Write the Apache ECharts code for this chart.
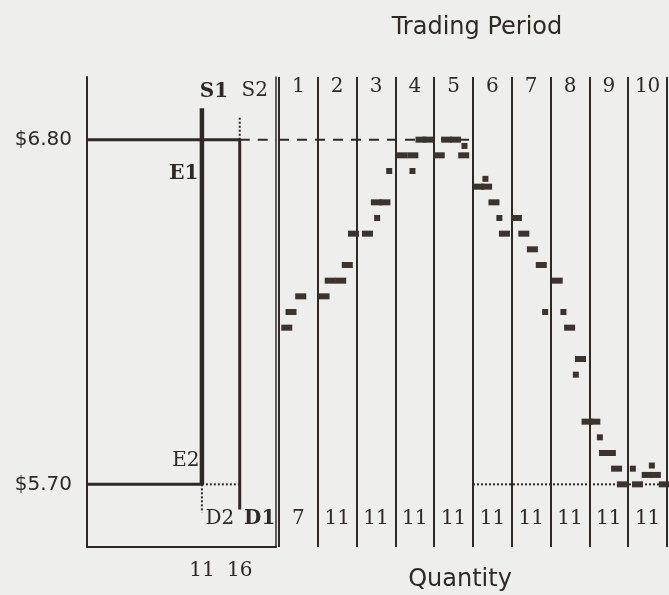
<!DOCTYPE html>
<html><head><meta charset="utf-8">
<script src="https://cdn.jsdelivr.net/npm/echarts@6/dist/echarts.min.js"></script>
<style>html,body{margin:0;padding:0;background:#eeeeec}#c{width:669px;height:595px}</style>
</head><body><div id="c"></div>
<script>
// ---- data ----
const periodLabels = ['1','2','3','4','5','6','7','8','9','10'];
const periodVolumes = ['7','11','11','11','11','11','11','11','11','11'];
const priceLevels = [6.80, 5.70];          // old / new equilibrium price
const supplyQuantities = [11, 16];         // S1 / S2 (and D2 / D1) quantities
const demandShiftPeriod = [5];             // demand falls after period 5
// contract prices: [position in trading periods, price]
const dashTrades = [
  [0.20,6.20],[0.31,6.25],[0.56,6.30],
  [1.16,6.30],[1.32,6.35],[1.59,6.35],[1.76,6.40],[1.92,6.50],
  [2.28,6.50],[2.51,6.60],[2.73,6.60],
  [3.17,6.75],[3.45,6.75],[3.66,6.80],[3.84,6.80],
  [4.13,6.75],[4.32,6.80],[4.55,6.80],[4.76,6.75],
  [5.15,6.65],[5.35,6.65],[5.54,6.60],[5.81,6.50],
  [6.12,6.55],[6.31,6.50],[6.53,6.45],[6.76,6.40],
  [7.17,6.35],[7.49,6.20],[7.77,6.10],[7.94,5.90],
  [8.14,5.90],[8.39,5.80],[8.54,5.80],[8.70,5.75],[8.85,5.70],
  [9.24,5.70],[9.49,5.73],[9.70,5.73],[9.93,5.70]
];
const squareTrades = [
  [2.53,6.55],[2.84,6.70],
  [3.44,6.70],
  [4.78,6.78],
  [5.32,6.675],[5.68,6.55],
  [6.86,6.25],
  [7.33,6.25],[7.65,6.05],
  [8.27,5.85],
  [9.12,5.75],[9.61,5.76]
];
const priceTicks = [6.80, 5.70];
const quantityTicks = [11, 16];

// ---- chart ----
const ink = '#2f2926';
const markInk = '#3a3330';
const qMin = -4.2, qMax = 20.8;
const pHi = priceLevels[0], pLo = priceLevels[1];
const q1 = supplyQuantities[0], q2 = supplyQuantities[1];
const serif = 'DejaVu Serif', sans = 'DejaVu Sans';

function lineSeries(data, width, type, xi, yi) {
  return { type:'line', xAxisIndex:xi||0, yAxisIndex:yi||0, data:data, symbol:'none',
    silent:true, clip:false, z:3,
    lineStyle:{ color:ink, width:width, type:type||'solid', cap:'butt', opacity:1 } };
}

function ann(name, at, offset, bold) {
  return { name:name, value:at, label:{ show:true, position:'inside', offset:offset,
    formatter:'{b}', color:ink, fontSize:20, fontFamily:serif, fontWeight: bold ? 'bold' : 'normal' } };
}

const chart = echarts.init(document.getElementById('c'));
chart.setOption({
  backgroundColor:'#eeeeec',
  animation:false,
  title:[
    { text:'Trading Period', left:472, top:11, textAlign:'center',
      textStyle:{ fontFamily:sans, fontSize:24, fontWeight:'normal', color:ink } },
    { text:'Quantity', left:455, top:563, textAlign:'center',
      textStyle:{ fontFamily:sans, fontSize:24, fontWeight:'normal', color:ink } }
  ],
  grid:[
    { left:87, top:77, width:189, height:470 },
    { left:279, top:77, width:388, height:470 }
  ],
  xAxis:[
    { gridIndex:0, type:'value', min:qMin, max:qMax,
      axisLine:{ show:true, onZero:false, lineStyle:{ color:ink, width:2 } },
      axisTick:{ show:false }, splitLine:{ show:false },
      axisLabel:{ customValues:quantityTicks, margin:14, fontSize:20, color:ink, fontFamily:serif } },
    { gridIndex:1, type:'value', min:0, max:10, interval:1, position:'bottom',
      axisLine:{ show:false }, axisTick:{ show:false }, axisLabel:{ show:false },
      splitLine:{ show:true, lineStyle:{ color:ink, width:2 } } },
    { gridIndex:1, type:'category', position:'top', data:periodLabels, offset:-22,
      axisLine:{ show:false }, axisTick:{ show:false }, splitLine:{ show:false },
      axisLabel:{ interval:0, margin:2, fontSize:20, color:ink, fontFamily:serif } },
    { gridIndex:1, type:'category', position:'bottom', data:periodVolumes, offset:-38,
      axisLine:{ show:false }, axisTick:{ show:false }, splitLine:{ show:false },
      axisLabel:{ interval:0, margin:0, fontSize:20, color:ink, fontFamily:serif } }
  ],
  yAxis:[
    { gridIndex:0, type:'value', min:5.5, max:7.0,
      axisLine:{ show:true, onZero:false, lineStyle:{ color:ink, width:2 } },
      axisTick:{ show:false }, splitLine:{ show:false },
      axisLabel:{ customValues:priceTicks, formatter:v => '$' + v.toFixed(2),
        margin:15, fontSize:20, color:ink, fontFamily:sans } },
    { gridIndex:0, type:'value', position:'right', min:5.5, max:7.0,
      axisLine:{ show:true, onZero:false, lineStyle:{ color:ink, width:1.5 } },
      axisTick:{ show:false }, axisLabel:{ show:false }, splitLine:{ show:false } },
    { gridIndex:1, type:'value', min:5.5, max:7.0, show:false }
  ],
  series:[
    lineSeries([[qMin,pHi],[q2,pHi],[q2,5.62]], 3),            // D1
    lineSeries([[q1,6.90],[q1,pLo]], 4.5),                     // S1
    lineSeries([[qMin,pLo],[q1,pLo]], 3),                      // D2
    lineSeries([[q2,6.87],[q2,pHi]], 2, 'dotted'),             // S2 above D1
    lineSeries([[q1,pLo],[q2,pLo]], 2, 'dotted'),
    lineSeries([[q1,pLo],[q1,5.61]], 2, 'dotted'),
    lineSeries([[q2,pHi],[qMax,pHi]], 2, [10,8]),
    lineSeries([[0,pHi],[demandShiftPeriod[0],pHi]], 2, [10,8], 1, 2),
    lineSeries([[demandShiftPeriod[0],pLo],[10,pLo]], 2, 'dotted', 1, 2),
    { type:'scatter', xAxisIndex:1, yAxisIndex:2, data:dashTrades, symbol:'rect',
      symbolSize:[11,6], clip:false, z:5, itemStyle:{ color:markInk, opacity:1 } },
    { type:'scatter', xAxisIndex:1, yAxisIndex:2, data:squareTrades, symbol:'rect',
      symbolSize:[6,6], clip:false, z:5, itemStyle:{ color:markInk, opacity:1 } },
    { type:'scatter', xAxisIndex:0, yAxisIndex:0, symbolSize:0, silent:true, z:6,
      itemStyle:{ opacity:1 },
      data:[
        ann('S1', [q1,6.90], [12,-17], true),
        ann('S2', [q2,6.87], [15,-27], false),
        ann('E1', [q1,pHi], [-18,34], true),
        ann('E2', [q1,pLo], [-16,-24], false),
        ann('D2', [q1,5.61], [18,6], false),
        ann('D1', [q2,5.62], [20,9], true)
      ] }
  ]
});
</script></body></html>
